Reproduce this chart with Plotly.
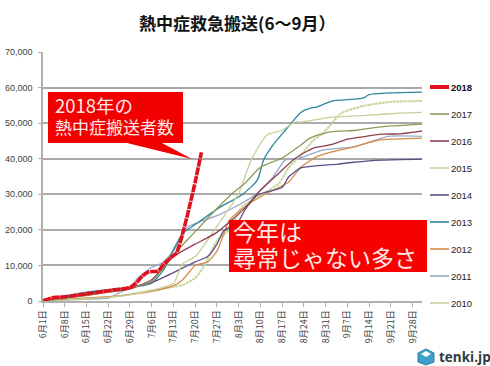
import plotly.graph_objects as go

# Days counted from June 1
TICK_DAYS = [0, 7, 14, 21, 28, 35, 42, 49, 56, 63, 70, 77, 84, 91, 98, 105, 112, 119]
TICK_TEXT = ["6月1日", "6月8日", "6月15日", "6月22日", "6月29日", "7月6日", "7月13日", "7月20日", "7月27日",
             "8月3日", "8月10日", "8月17日", "8月24日", "8月31日", "9月7日", "9月14日", "9月21日", "9月28日"]
Y_TICKS = [0, 10000, 20000, 30000, 40000, 50000, 60000, 70000]

days_2018 = [0, 3, 7, 14, 21, 28, 30, 32, 34, 37, 39, 42, 43, 45, 47, 49, 51]
vals_2018 = [100, 900, 1200, 2000, 2900, 3800, 5000, 7000, 8200, 8400, 10500, 12800, 13500, 19100, 26000, 33500, 41800]

days_2017 = [0, 7, 14, 21, 28, 35, 42, 49, 56, 61, 65, 70, 77, 82, 86, 92, 101, 108, 122]
vals_2017 = [0, 700, 1500, 2500, 3700, 5500, 13000, 19500, 26000, 30300, 33100, 37600, 40200, 43200, 45800, 47500, 48000, 48900, 49700]

days_2016 = [0, 7, 14, 21, 28, 35, 42, 49, 56, 65, 70, 76, 81, 87, 93, 98, 104, 109, 115, 122]
vals_2016 = [0, 900, 1700, 2500, 3400, 6000, 12500, 16000, 19300, 26100, 31200, 36000, 40000, 43000, 44000, 45500, 46300, 46900, 47000, 47800]

days_2015 = [0, 7, 14, 21, 28, 35, 42, 45, 49, 56, 63, 67, 72, 77, 81, 83, 93, 104, 115, 122]
vals_2015 = [0, 300, 600, 1000, 1800, 3000, 5000, 10500, 12500, 21000, 30300, 39600, 46600, 48000, 50300, 50300, 51700, 52200, 52800, 53000]

days_2014 = [0, 7, 14, 21, 28, 32, 35, 42, 49, 53, 56, 58, 63, 65, 69, 77, 79, 83, 87, 95, 100, 109, 122]
vals_2014 = [0, 1000, 2000, 3000, 3700, 4600, 5200, 8000, 11000, 12500, 16000, 19500, 22500, 25600, 29800, 32000, 34800, 37400, 37900, 38500, 39000, 39600, 39900]

days_2013 = [0, 7, 14, 21, 28, 35, 39, 42, 45, 49, 57, 64, 69, 71, 74, 78, 83, 86, 88, 93, 103, 105, 122]
vals_2013 = [200, 1400, 2500, 3200, 3800, 5000, 9000, 14500, 19000, 21500, 26400, 29800, 34000, 39600, 43800, 48000, 53000, 54200, 54500, 56200, 57000, 58000, 58700]

days_2012 = [0, 7, 14, 21, 28, 35, 42, 45, 49, 53, 56, 60, 65, 71, 79, 83, 88, 93, 100, 108, 112, 122]
vals_2012 = [0, 400, 900, 1200, 1800, 2700, 4300, 6000, 10000, 11000, 14000, 22700, 26500, 29800, 33400, 37600, 40500, 41900, 43300, 45200, 45500, 45800]

days_2011 = [0, 7, 14, 21, 25, 28, 30, 32, 35, 38, 42, 45, 47, 56, 63, 69, 74, 78, 82, 90, 100, 107, 111, 122]
vals_2011 = [0, 300, 500, 800, 2500, 3700, 6000, 7500, 9500, 10500, 14000, 19000, 21000, 24000, 27000, 30300, 34800, 39600, 40000, 42400, 43300, 45200, 46300, 46300]

days_2010 = [0, 7, 14, 21, 28, 35, 42, 45, 49, 52, 56, 60, 64, 71, 76, 79, 83, 87, 90, 93, 96, 103, 112, 122]
vals_2010 = [0, 300, 600, 1000, 1900, 3000, 4000, 4500, 6500, 10000, 17000, 20000, 26400, 30300, 33100, 37400, 41000, 45200, 47000, 50000, 52800, 54800, 56000, 56200]

YEARS = ["2018", "2017", "2016", "2015", "2014", "2013", "2012", "2011", "2010"]
COLORS = ["#e0101c", "#8c9a5a", "#8f3f50", "#c6d09c", "#5d4f86", "#31859c", "#d98a45", "#97a9ca", "#c3d69b"]
SERIES = [(days_2018, vals_2018), (days_2017, vals_2017), (days_2016, vals_2016), (days_2015, vals_2015),
          (days_2014, vals_2014), (days_2013, vals_2013), (days_2012, vals_2012), (days_2011, vals_2011),
          (days_2010, vals_2010)]
WIDTHS = [3.6, 1.3, 1.3, 1.3, 1.3, 1.3, 1.3, 1.3, 2]
DASHES = ["8px,0.8px", "solid", "solid", "solid", "solid", "solid", "solid", "solid", "3px,0.7px"]

W, H = 490, 366
L, R, T, B = 43, 68, 52, 65
CJK = "Noto Sans CJK JP"
LAT = "Liberation Sans"


def px(x):
    return (x - L) / (W - L - R)


def py(y):
    return 1 - (y - T) / (H - T - B)


fig = go.Figure()
for i in range(8, -1, -1):
    d, v = SERIES[i]
    fig.add_trace(go.Scatter(x=d, y=v, mode="lines", name=YEARS[i],
                             line=dict(color=COLORS[i], width=WIDTHS[i], dash=DASHES[i], shape="spline", smoothing=0.6),
                             showlegend=False))

shapes = []
annotations = []


def text(x, y, s, size, color="#404040", family=CJK, anchor="left", bold=False):
    annotations.append(dict(xref="paper", yref="paper", x=px(x), y=py(y), text=f"<b>{s}</b>" if bold else s,
                            showarrow=False, xanchor=anchor, yanchor="middle", borderpad=0,
                            font=dict(size=size, color=color, family=family)))


# legend
for i, yr in enumerate(YEARS):
    ly = 87 + i * 27
    shapes.append(dict(type="line", xref="paper", yref="paper", x0=px(430), x1=px(449), y0=py(ly), y1=py(ly),
                       line=dict(color=COLORS[i], width=4 if i == 0 else 1.6, dash="solid")))
    text(450.5, ly, yr, 9.5, color="#222222" if i else "#111111", family=LAT, bold=i == 0)

# callouts
shapes.append(dict(type="path", xref="paper", yref="paper", fillcolor="#f20000", line=dict(width=0), layer="above",
                   path=f"M {px(48)} {py(92)} L {px(183)} {py(92)} L {px(183)} {py(143)} L {px(162)} {py(143)} "
                        f"L {px(192)} {py(159)} L {px(127)} {py(143)} L {px(48)} {py(143)} Z"))
shapes.append(dict(type="rect", xref="paper", yref="paper", x0=px(229), x1=px(427), y0=py(220), y1=py(272),
                   fillcolor="#f80000", line=dict(width=0), layer="above"))
text(54, 105, "2018年の", 18.5, color="#ffe8e8")
text(54, 127, "熱中症搬送者数", 17, color="#ffe8e8")
text(232, 231, "今年は", 23, color="#ffe8e8")
text(232, 257, "尋常じゃない多さ", 23, color="#ffe8e8")

# title
text(237.5, 23, "熱中症救急搬送(6～9月）", 17, color="#111111", anchor="center", bold=True)

# logo
shapes.append(dict(type="path", xref="paper", yref="paper", fillcolor="#3f9fc9", line=dict(color="#2b7fa8", width=1),
                   path=f"M {px(426)} {py(349)} L {px(434)} {py(353)} L {px(434)} {py(362)} L {px(426)} {py(365)} "
                        f"L {px(418)} {py(362)} L {px(418)} {py(353)} Z"))
shapes.append(dict(type="path", xref="paper", yref="paper", fillcolor="#ffffff", line=dict(width=0),
                   path=f"M {px(426)} {py(351)} L {px(431)} {py(354)} L {px(426)} {py(357)} L {px(421)} {py(354)} Z"))
text(438, 357, "tenki.jp", 13.5, color="#2f3a40", family="Open Sans", bold=True)

fig.update_layout(
    width=W, height=H, autosize=False, showlegend=False,
    margin=dict(l=L, r=R, t=T, b=B, pad=0, autoexpand=False),
    paper_bgcolor="white", plot_bgcolor="white",
    shapes=shapes, annotations=annotations,
    xaxis=dict(range=[0, 122], tickmode="array", tickvals=TICK_DAYS, ticktext=TICK_TEXT, tickangle=-90,
               automargin=False, ticks="outside", ticklen=4, tickcolor="#b0b0b0", showgrid=False, zeroline=False,
               showline=True, linecolor="#b0b0b0", linewidth=1.5,
               tickfont=dict(size=9, family=CJK, color="#404040")),
    yaxis=dict(range=[0, 70000], tickmode="array", tickvals=Y_TICKS, tickformat=",", ticks="outside", ticklen=3,
               automargin=False, ticklabelstandoff=4,
               tickcolor="#b0b0b0", showgrid=True, gridcolor="#aaaaaa", gridwidth=1.5, zeroline=False,
               showline=True, linecolor="#b0b0b0", linewidth=1.5,
               tickfont=dict(size=9, family=LAT, color="#404040")),
)
fig.write_html("out.html", config={"displayModeBar": False}, post_script="document.body.style.margin='0';")
